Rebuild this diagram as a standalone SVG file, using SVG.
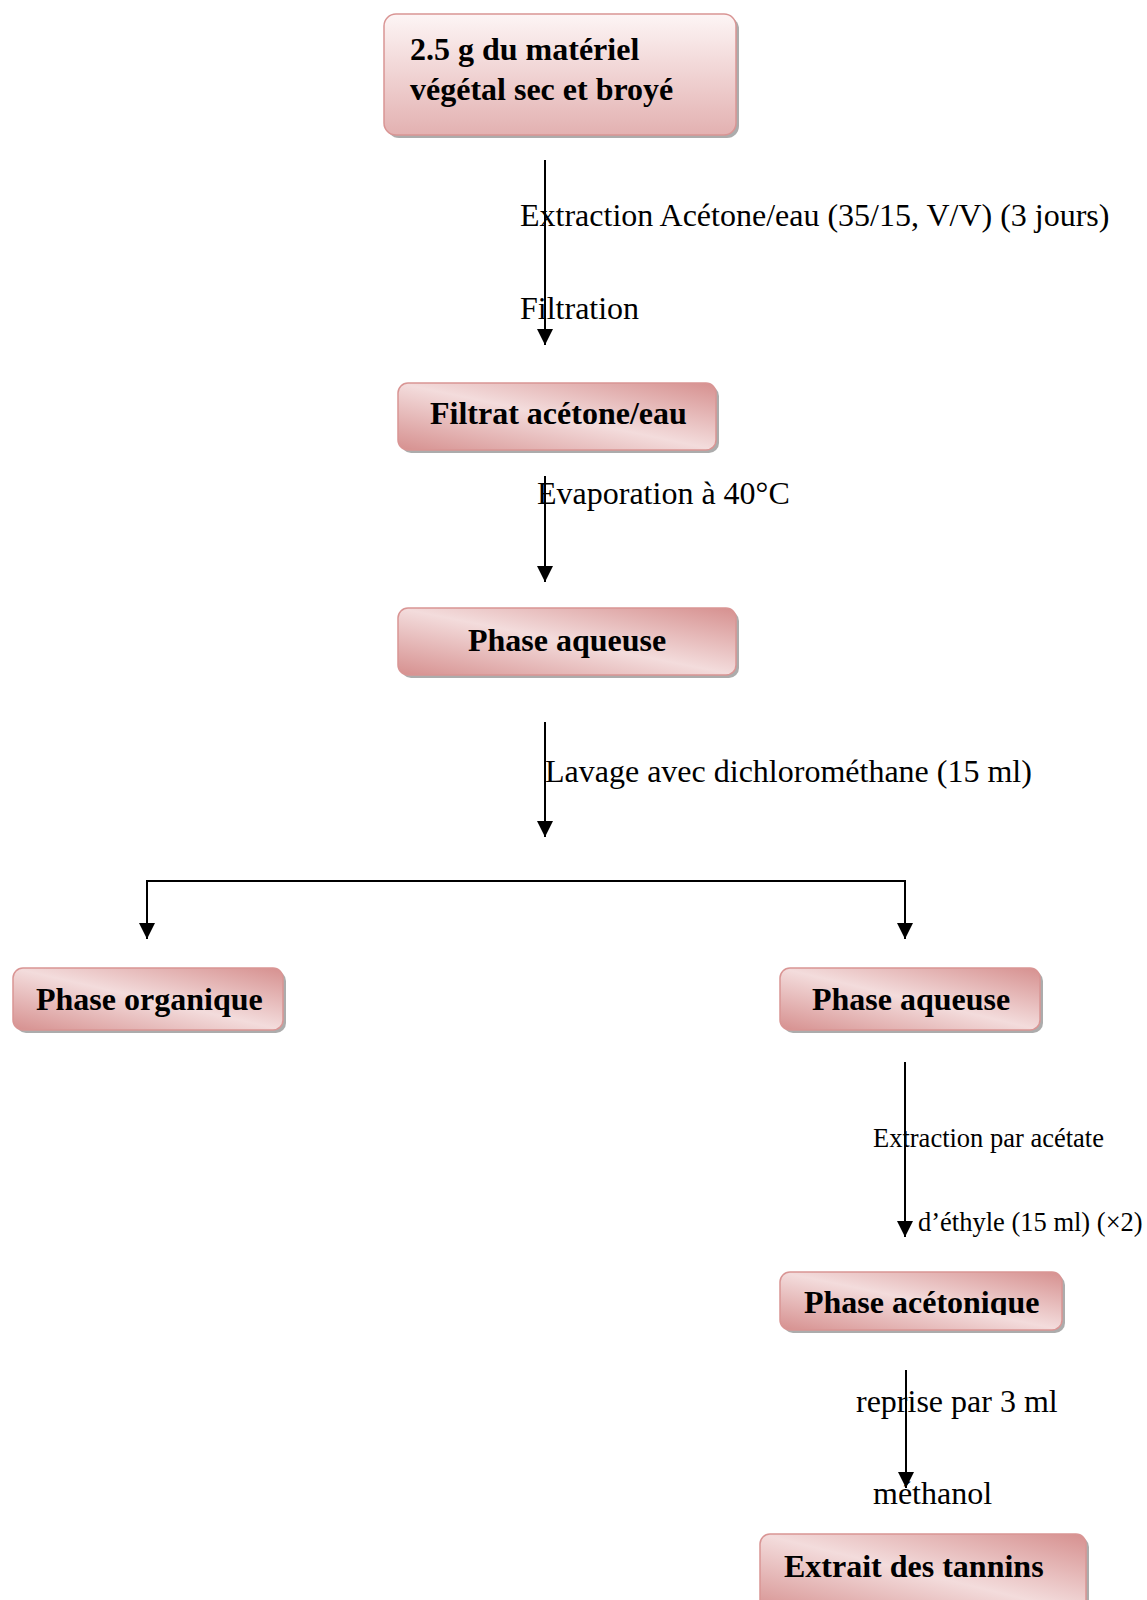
<svg xmlns="http://www.w3.org/2000/svg" width="1147" height="1600" viewBox="0 0 1147 1600">
<defs>
<linearGradient id="gDiag" x1="1" y1="0" x2="0" y2="1">
<stop offset="0" stop-color="#d6908f"/>
<stop offset="0.5" stop-color="#f3dcdc"/>
<stop offset="1" stop-color="#d6908f"/>
</linearGradient>
<linearGradient id="gVert" x1="0" y1="0" x2="0" y2="1">
<stop offset="0" stop-color="#fdf5f5"/>
<stop offset="1" stop-color="#e3b1b1"/>
</linearGradient>
<marker id="arr" markerWidth="18" markerHeight="18" refX="16" refY="8" orient="auto" markerUnits="userSpaceOnUse">
<path d="M0,0 L16,8 L0,16 Z" fill="#000"/>
</marker>
<clipPath id="clipAce"><rect x="770" y="1260" width="300" height="55"/></clipPath>
</defs>
<style>
.shadow{fill:#9e9e9e;opacity:0.85}
.box{fill:url(#gDiag);stroke:#d99594;stroke-width:1.5}
.box1{fill:url(#gVert);stroke:#d99594;stroke-width:1.5}
.bt{font-family:"Liberation Serif","Times New Roman",serif;font-weight:bold;font-size:32px;fill:#000}
.lt{font-family:"Liberation Serif","Times New Roman",serif;font-size:32px;fill:#000}
.st{font-family:"Liberation Serif","Times New Roman",serif;font-size:26.5px;fill:#000}
.c{fill:none;stroke:#000;stroke-width:2}
</style>
<rect width="1147" height="1600" fill="#fff"/>

<g id="connectors">
<line class="c" x1="545" y1="160" x2="545" y2="345" marker-end="url(#arr)"/>
<line class="c" x1="545" y1="476" x2="545" y2="582" marker-end="url(#arr)"/>
<line class="c" x1="545" y1="722" x2="545" y2="837" marker-end="url(#arr)"/>
<polyline class="c" points="147,939 147,881 905,881 905,939" marker-end="url(#arr)"/>
<line class="c" x1="147" y1="881" x2="147" y2="939" marker-end="url(#arr)"/>
<line class="c" x1="905" y1="1062" x2="905" y2="1237" marker-end="url(#arr)"/>
<line class="c" x1="906" y1="1370" x2="906" y2="1488" marker-end="url(#arr)"/>
</g>

<g id="labels">
<text class="lt" x="520" y="226">Extraction Acétone/eau (35/15, V/V) (3 jours)</text>
<text class="lt" x="520" y="319">Filtration</text>
<text class="lt" x="537" y="504">Evaporation à 40°C</text>
<text class="lt" x="545" y="782">Lavage avec dichlorométhane (15 ml)</text>
<text class="st" x="873" y="1147">Extraction par acétate</text>
<text class="st" x="918" y="1231">d’éthyle (15 ml) (×2)</text>
<text class="lt" x="856" y="1412">reprise par 3 ml</text>
<text class="lt" x="873" y="1504">méthanol</text>
</g>

<g id="n1">
<rect class="shadow" x="387" y="17" width="352" height="121" rx="12"/>
<rect class="box1" x="384" y="14" width="352" height="121" rx="12"/>
<text class="bt" x="410" y="60">2.5 g du matériel</text>
<text class="bt" x="410" y="100">végétal sec et broyé</text>
</g>

<g id="n2">
<rect class="shadow" x="401" y="386" width="318" height="67" rx="10"/>
<rect class="box" x="398" y="383" width="318" height="67" rx="10"/>
<text class="bt" x="430" y="424">Filtrat acétone/eau</text>
</g>

<g id="n3">
<rect class="shadow" x="401" y="611" width="338" height="67" rx="10"/>
<rect class="box" x="398" y="608" width="338" height="67" rx="10"/>
<text class="bt" x="468" y="651">Phase aqueuse</text>
</g>

<g id="n4">
<rect class="shadow" x="16" y="971" width="270" height="62" rx="10"/>
<rect class="box" x="13" y="968" width="270" height="62" rx="10"/>
<text class="bt" x="36" y="1010">Phase organique</text>
</g>

<g id="n5">
<rect class="shadow" x="783" y="971" width="260" height="62" rx="10"/>
<rect class="box" x="780" y="968" width="260" height="62" rx="10"/>
<text class="bt" x="812" y="1010">Phase aqueuse</text>
</g>

<g id="n6">
<rect class="shadow" x="783" y="1275" width="282" height="58" rx="10"/>
<rect class="box" x="780" y="1272" width="282" height="58" rx="10"/>
<text class="bt" x="804" y="1313" clip-path="url(#clipAce)">Phase acétonique</text>
</g>

<g id="n7">
<rect class="shadow" x="763" y="1537" width="326" height="80" rx="10"/>
<rect class="box" x="760" y="1534" width="326" height="80" rx="10"/>
<text class="bt" x="784" y="1577">Extrait des tannins</text>
</g>
</svg>
